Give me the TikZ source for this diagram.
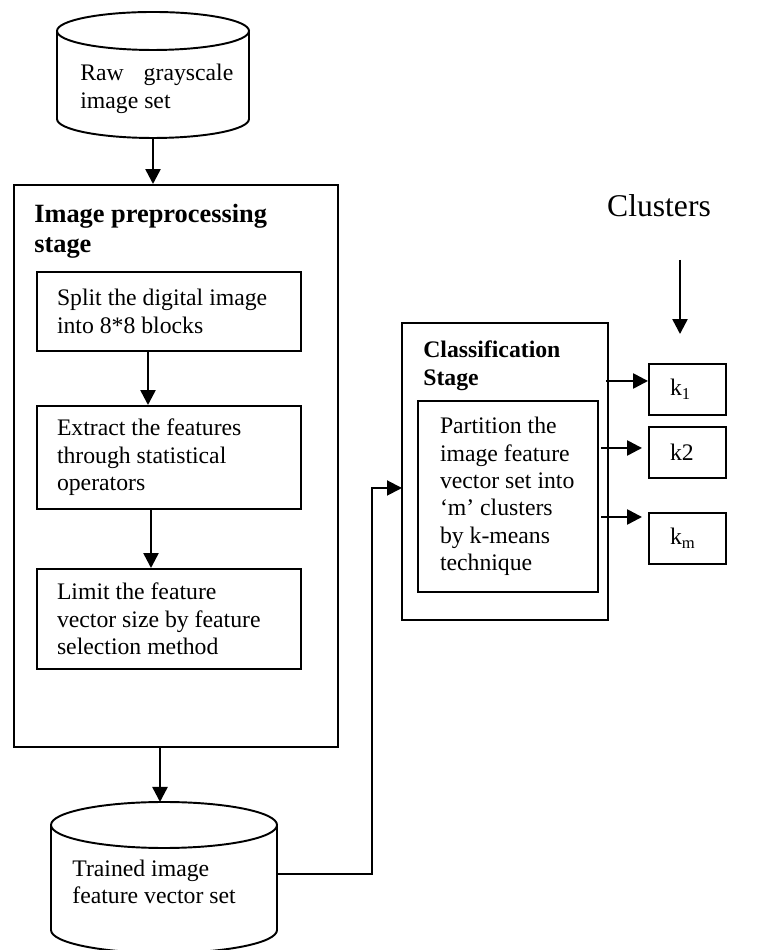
\documentclass[tikz,border=0pt]{standalone}
\usepackage{fontspec}
\setmainfont{Liberation Serif}
\usetikzlibrary{arrows.meta,positioning}

\begin{document}
\begin{tikzpicture}
\tikzset{
  bodytext/.style={font=\fontsize{13.5}{15.6}\selectfont},
  boxline/.style={draw, line width=1.1pt},
  stepbox/.style={boxline, bodytext, text width=4.48cm, inner xsep=0.4cm, inner ysep=0pt, align=flush left},
  stagetitle/.style={anchor=north west, inner sep=0pt, align=flush left, font=\bfseries\fontsize{15}{17}\selectfont},
  kbox/.style={boxline, bodytext, minimum height=1.02cm, text width=0.7cm, inner xsep=0.42cm, align=flush left},
  link/.style={line width=1.1pt},
  flow/.style={line width=1.4pt, -{Triangle[length=0.3cm, width=0.3cm]}}
}
\useasboundingbox (0,0) rectangle (15.3,19);
\clip (0,0) rectangle (15.3,19);

% raw image set
\draw[link] (1.14,18.38) -- (1.14,16.62) arc[start angle=180, end angle=360, x radius=1.92, y radius=0.38] -- (4.98,18.38);
\draw[link] (3.06,18.38) ellipse[x radius=1.92, y radius=0.38];
\node[bodytext, anchor=west, inner sep=0pt, align=flush left] (rawset) at (1.6,17.22) {Raw\hspace{0.84em}grayscale\\image set};
\coordinate (rawbot) at (3.06,16.24);

% preprocessing stage
\node[boxline, minimum width=6.48cm, minimum height=11.24cm] (prep) at (3.52,9.68) {};
\node[stagetitle] (preptitle) at (0.68,14.92) {Image preprocessing\\stage};
\node[stepbox, minimum height=1.58cm] (split) at (3.38,12.77) {Split the digital image\\into 8*8 blocks};
\node[stepbox, minimum height=2.06cm] (extract) at (3.38,9.85) {Extract the features\\through statistical\\operators};
\node[stepbox, minimum height=2.0cm] (limit) at (3.38,6.62) {Limit the feature\\vector size by feature\\selection method};

\draw[flow] (rawbot) -- (rawbot |- prep.north);
\draw[flow] ([xshift=-0.42cm]split.south) -- ([xshift=-0.42cm]extract.north);
\draw[flow] ([xshift=-0.36cm]extract.south) -- ([xshift=-0.36cm]limit.north);

% trained feature set
\draw[link] (1.02,2.5) -- (1.02,0.4) arc[start angle=180, end angle=360, x radius=2.26, y radius=0.46] -- (5.54,2.5);
\draw[link] (3.28,2.5) ellipse[x radius=2.26, y radius=0.46];
\node[bodytext, anchor=west, inner sep=0pt, align=flush left] (trainset) at (1.44,1.36) {Trained image\\feature vector set};
\coordinate (traintop) at (3.2,2.96);
\coordinate (trainout) at (5.54,1.52);
\draw[flow] (prep.south -| traintop) -- (traintop);

% classification stage
\node[boxline, minimum width=4.12cm, minimum height=5.94cm] (class) at (10.1,9.57) {};
\node[stagetitle, font=\bfseries\fontsize{13.5}{16}\selectfont] (classtitle) at (8.46,12.2) {Classification\\Stage};
\node[stepbox, text width=3.0cm, inner xsep=0.3cm, minimum height=3.82cm] (partition) at (10.16,9.07) {\hspace*{0.14cm}Partition the\\\hspace*{0.14cm}image feature\\\hspace*{0.14cm}vector set into\\\hspace*{0.14cm}`m' clusters\\\hspace*{0.14cm}by k-means\\\hspace*{0.14cm}technique};
\coordinate (classin) at (8.04,9.24);
\draw[flow, line width=1.1pt] (trainout) -| ([xshift=-0.6cm]classin) -- (classin);

% clusters
\node[font=\fontsize{18}{21}\selectfont, inner sep=0pt] (clusterlbl) at (13.18,14.88) {Clusters};
\node[kbox] (k1) at (13.75,11.21) {k\textsubscript{1}};
\node[kbox] (k2) at (13.75,9.95) {k2};
\node[kbox] (km) at (13.75,8.23) {k\textsubscript{m}};
\coordinate (ctop) at (13.6,13.8);
\draw[flow, shorten >=0.58cm] (ctop) -- (ctop |- k1.north);

\coordinate (out1) at (12.12,11.38);
\coordinate (out2) at (12.02,10.04);
\coordinate (outm) at (12.02,8.66);
\draw[flow] (out1) -- (out1 -| k1.west);
\draw[flow, shorten >=0.12cm] (out2) -- (out2 -| k2.west);
\draw[flow, shorten >=0.12cm] (outm) -- (outm -| km.west);
\end{tikzpicture}
\end{document}
